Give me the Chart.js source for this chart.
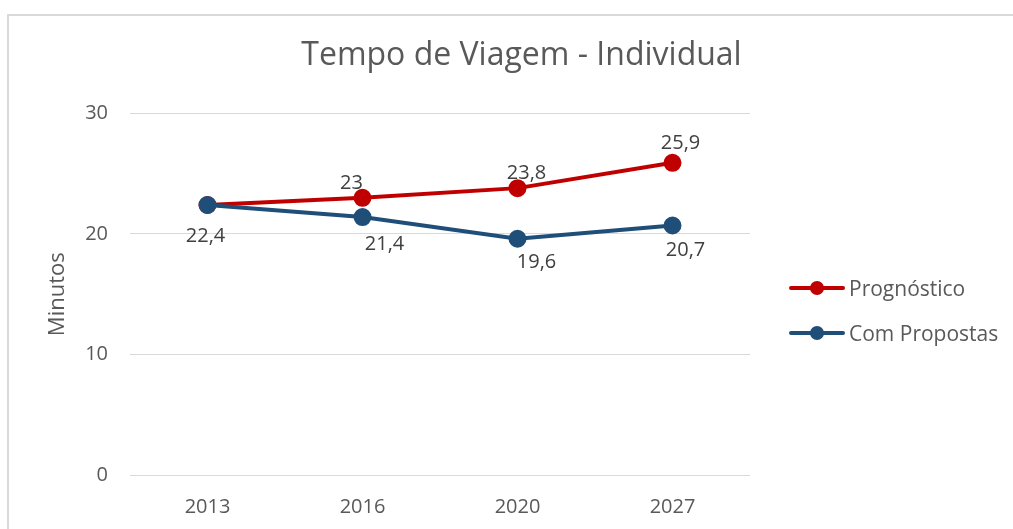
<!DOCTYPE html>
<html>
<head>
<meta charset="utf-8">
<script src="https://cdn.jsdelivr.net/npm/chart.js@4"></script>
<style>
    html, body { margin: 0; padding: 0; background: #fff; }
    #wrap { position: relative; width: 1013px; height: 529px; overflow: hidden; }
    #frame {
        position: absolute; left: 7px; top: 14px; right: -4px; bottom: -4px;
        border-left: 2px solid #d9d9d9; border-top: 2px solid #d9d9d9;
        pointer-events: none;
    }
    #legend {
        position: absolute; left: 789px; top: 275px;
        font-family: "Open Sans", sans-serif; font-size: 21px; color: #595959;
    }
    .item { display: flex; align-items: center; height: 26px; margin-bottom: 19px; }
    .item svg { margin-right: 4px; }
</style>
</head>
<body>
<div id="wrap">
    <canvas id="tempoChart" width="1013" height="529"></canvas>
    <div id="frame"></div>
    <div id="legend"></div>
</div>
<script>
const anos = ['2013', '2016', '2020', '2027'];
const prognostico = [22.4, 23, 23.8, 25.9];
const comPropostas = [22.4, 21.4, 19.6, 20.7];
const yTicks = [0, 10, 20, 30];

const RED = '#C00000';
const BLUE = '#1F4E79';

// value labels with a comma decimal, like the spreadsheet shows them
function fmt(v) {
    return v.toLocaleString('pt-BR');
}

const valueLabels = {
    id: 'valueLabels',
    afterDatasetsDraw(chart) {
        const ctx = chart.ctx;
        ctx.save();
        ctx.font = '20px "Open Sans"';
        ctx.fillStyle = '#404040';
        ctx.textAlign = 'center';
        ctx.textBaseline = 'middle';
        chart.data.datasets.forEach((ds, i) => {
            const meta = chart.getDatasetMeta(i);
            meta.data.forEach((pt, j) => {
                const shift = ds.labelShift[j];
                if (!shift) return;
                ctx.fillText(fmt(ds.data[j]), pt.x + shift[0], pt.y + shift[1]);
            });
        });
        ctx.restore();
    }
};

const ctx = document.getElementById('tempoChart').getContext('2d');
new Chart(ctx, {
    type: 'line',
    data: {
        labels: anos,
        datasets: [{
            label: 'Prognóstico',
            data: prognostico,
            borderColor: RED,
            backgroundColor: RED,
            borderWidth: 4,
            pointRadius: 7,
            pointHoverRadius: 7,
            order: 1,
            labelShift: [null, [-11, -14], [9, -15], [8, -20]]
        }, {
            label: 'Com Propostas',
            data: comPropostas,
            borderColor: BLUE,
            backgroundColor: BLUE,
            borderWidth: 4,
            pointRadius: 7,
            pointHoverRadius: 7,
            order: 0,
            labelShift: [[-2, 31], [22, 27], [19, 24], [13, 25]]
        }]
    },
    options: {
        responsive: false,
        animation: false,
        layout: { padding: { left: 30, right: 0, top: 0, bottom: 0 } },
        plugins: {
            legend: { display: false },
            tooltip: { enabled: false },
            title: {
                display: true,
                text: 'Tempo de Viagem - Individual',
                color: '#595959',
                font: { family: 'Open Sans', size: 32, weight: 'normal' },
                padding: { top: 37, bottom: 38 }
            }
        },
        scales: {
            x: {
                offset: true,
                grid: { display: false, drawTicks: false },
                border: { display: false },
                ticks: {
                    color: '#595959',
                    font: { family: 'Open Sans', size: 20 },
                    padding: 20
                },
                afterFit: scale => { scale.height = 54; }
            },
            y: {
                min: 0,
                max: 30,
                afterBuildTicks: scale => {
                    scale.ticks = yTicks.map(v => ({ value: v }));
                },
                grid: { color: '#d9d9d9', lineWidth: 1, drawTicks: false },
                border: { display: false },
                ticks: {
                    color: '#595959',
                    font: { family: 'Open Sans', size: 20 },
                    padding: 22
                },
                title: {
                    display: true,
                    text: 'Minutos',
                    color: '#595959',
                    font: { family: 'Open Sans', size: 22 },
                    padding: { top: 15 }
                },
                afterFit: scale => { scale.width = 100; }
            },
            // empty axis that keeps room on the right for the legend
            side: {
                position: 'right',
                display: true,
                min: 0,
                max: 1,
                grid: { display: false, drawTicks: false },
                border: { display: false },
                ticks: { display: false },
                afterFit: scale => { scale.width = 263; }
            }
        }
    },
    plugins: [valueLabels]
});

// legend: line with a round marker, then the series name
const legendBox = document.getElementById('legend');
[['Prognóstico', RED], ['Com Propostas', BLUE]].forEach(([name, color]) => {
    const item = document.createElement('div');
    item.className = 'item';
    item.innerHTML =
        `<svg width="56" height="16"><line x1="2" y1="8" x2="54" y2="8" stroke="${color}" stroke-width="4" stroke-linecap="round"/>` +
        `<circle cx="28" cy="8" r="7" fill="${color}"/></svg><span>${name}</span>`;
    legendBox.appendChild(item);
});
</script>
</body>
</html>
